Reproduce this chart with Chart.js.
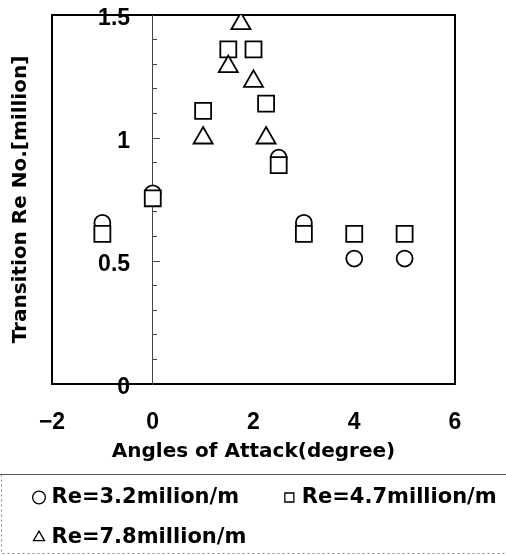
<!DOCTYPE html>
<html>
<head>
<meta charset="utf-8">
<script src="https://cdn.jsdelivr.net/npm/chart.js@4.4.1/dist/chart.umd.min.js"></script>
<style>
  html, body { margin: 0; padding: 0; background: #fff; }
  #wrap { width: 506px; height: 555px; }
</style>
</head>
<body>
<div id="wrap"><canvas id="c" width="506" height="555"></canvas></div>
<script>
// Transition Reynolds number (million) against angle of attack (degree)
const seriesNames = ['Re=3.2milion/m', 'Re=4.7million/m', 'Re=7.8million/m'];

const angles32 = [-1, 0, 2.5, 3, 4, 5];
const re32     = [0.655, 0.775, 0.92, 0.655, 0.51, 0.51];

const angles47 = [-1, 0, 1, 1.5, 2, 2.25, 2.5, 3, 4, 5];
const re47     = [0.61, 0.755, 1.11, 1.36, 1.36, 1.14, 0.89, 0.61, 0.61, 0.61];

const angles78 = [1, 1.5, 1.75, 2, 2.25];
const re78     = [1.0, 1.29, 1.465, 1.23, 1.0];

const xTicks = [-2, 0, 2, 4, 6];
const yTicks = [0, 0.5, 1, 1.5];
const yMinorStep = 0.1;

// the value axis is drawn through x = 0, its numbers sit a little to the left
const yAxisAt = 0;
const yLabelsAt = -0.45;

const boldTick = { family: 'Liberation Sans', weight: 'bold', size: 23 };
const boldText = { family: 'DejaVu Sans', weight: 'bold', size: 20 };

const toPoints = (xs, ys) => xs.map((x, i) => ({ x, y: ys[i] }));

// Box drawn round the legend
const legendFrame = {
  id: 'legendFrame',
  afterDraw(chart) {
    const lg = chart.legend;
    const ctx = chart.ctx;
    const top = Math.round(lg.top + 6) + 0.5;
    const bottom = chart.height - 1.5;
    ctx.save();
    ctx.lineWidth = 1;
    ctx.strokeStyle = '#555';
    ctx.beginPath();
    ctx.moveTo(0, top);
    ctx.lineTo(chart.width, top);
    ctx.stroke();
    ctx.strokeStyle = '#888';
    ctx.setLineDash([2, 3]);
    ctx.beginPath();
    ctx.moveTo(1.5, top);
    ctx.lineTo(1.5, bottom);
    ctx.lineTo(chart.width, bottom);
    ctx.stroke();
    ctx.restore();
  }
};

const markerBase = {
  showLine: false,
  borderColor: '#000',
  backgroundColor: '#fff',
  borderWidth: 1.8,
  xAxisID: 'x',
  yAxisID: 'y'
};

const hiddenTicks = { display: false };
const noGrid = { display: false, drawTicks: false };
const frameBorder = { display: true, color: '#000', width: 2 };

new Chart(document.getElementById('c'), {
  type: 'scatter',
  data: {
    datasets: [
      Object.assign({}, markerBase, {
        label: seriesNames[0], data: toPoints(angles32, re32),
        pointStyle: 'circle', pointRadius: 8, order: 3
      }),
      Object.assign({}, markerBase, {
        label: seriesNames[1], data: toPoints(angles47, re47),
        pointStyle: 'rect', pointRadius: 11.3, order: 2
      }),
      Object.assign({}, markerBase, {
        label: seriesNames[2], data: toPoints(angles78, re78),
        pointStyle: 'triangle', pointRadius: 11, order: 1
      })
    ]
  },
  options: {
    responsive: false,
    animation: false,
    events: [],
    devicePixelRatio: 1,
    layout: { padding: { left: 18, right: -30, top: 15, bottom: -3 } },
    scales: {
      x: {
        type: 'linear', position: 'bottom',
        min: xTicks[0], max: xTicks[xTicks.length - 1],
        ticks: {
          stepSize: xTicks[1] - xTicks[0],
          font: boldTick, color: '#000', padding: 25,
          callback: v => String(v).replace('-', '\u2212')
        },
        grid: noGrid,
        border: frameBorder,
        title: {
          display: true, text: 'Angles of Attack(degree)',
          font: boldText, color: '#000', padding: { top: 4, bottom: 4 }
        },
        afterFit: s => { s.height = 84; }
      },
      xt: {
        type: 'linear', position: 'top',
        min: xTicks[0], max: xTicks[xTicks.length - 1],
        ticks: hiddenTicks, grid: noGrid, border: frameBorder
      },
      yt: {
        type: 'linear', position: 'left',
        min: yTicks[0], max: yTicks[yTicks.length - 1],
        ticks: hiddenTicks, grid: noGrid, border: frameBorder,
        title: {
          display: true, text: 'Transition Re No.[million]',
          font: boldText, color: '#000', padding: { top: -9, bottom: 18 }
        },
        afterFit: s => { s.width = 34; }
      },
      yr: {
        type: 'linear', position: 'right',
        min: yTicks[0], max: yTicks[yTicks.length - 1],
        ticks: hiddenTicks, grid: noGrid, border: frameBorder,
        afterFit: s => { s.width = 81; }
      },
      ym: {
        type: 'linear', position: { x: yAxisAt },
        min: yTicks[0], max: yTicks[yTicks.length - 1],
        ticks: { display: false, stepSize: yMinorStep },
        grid: { display: true, drawOnChartArea: false, drawTicks: true, tickLength: -4, tickColor: '#444', tickWidth: 1 },
        border: { display: false }
      },
      y0: {
        type: 'linear', position: { x: yAxisAt },
        min: yTicks[0], max: yTicks[yTicks.length - 1],
        ticks: { display: false, stepSize: yTicks[1] - yTicks[0] },
        grid: { display: true, drawOnChartArea: false, drawTicks: true, tickLength: -8, tickColor: '#444', tickWidth: 1 },
        border: { display: true, color: '#444', width: 1 }
      },
      y: {
        type: 'linear', position: { x: yLabelsAt },
        min: yTicks[0], max: yTicks[yTicks.length - 1],
        ticks: {
          stepSize: yTicks[1] - yTicks[0], font: boldTick, color: '#000',
          padding: 0, labelOffset: 4, callback: v => String(v)
        },
        grid: noGrid,
        border: { display: false }
      }
    },
    plugins: {
      tooltip: { enabled: false },
      legend: {
        position: 'bottom',
        align: 'start',
        labels: {
          usePointStyle: true,
          boxWidth: 4,
          boxHeight: 9,
          padding: 19,
          color: '#000',
          font: { family: 'DejaVu Sans', weight: 'bold', size: 21 },
          sort: (a, b) => a.datasetIndex - b.datasetIndex,
          generateLabels: chart => {
            const items = Chart.defaults.plugins.legend.labels.generateLabels(chart);
            items.forEach(it => {
              it.lineWidth = 1.3;
              it.text = seriesNames[it.datasetIndex] + (it.datasetIndex === 0 ? '    ' : '');
            });
            return items;
          }
        }
      }
    }
  },
  plugins: [legendFrame]
});
</script>
</body>
</html>
